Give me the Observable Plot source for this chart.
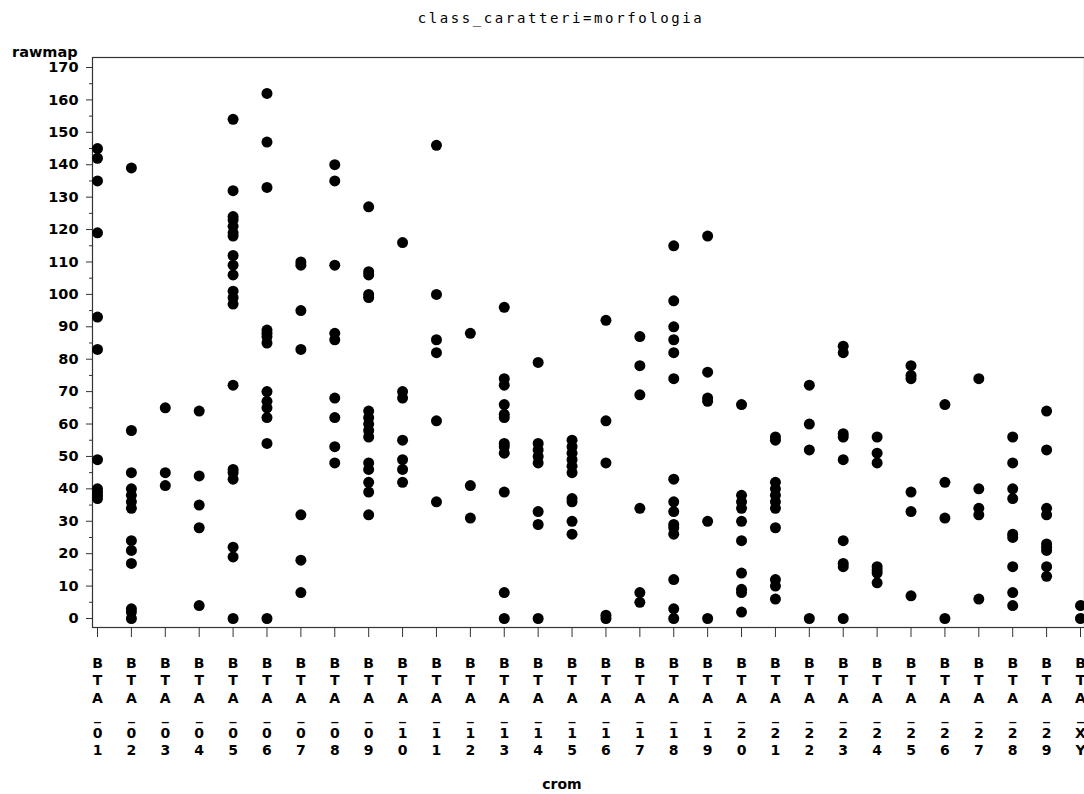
<!DOCTYPE html>
<html>
<head>
<meta charset="utf-8">
<script src="https://cdn.jsdelivr.net/npm/d3@7"></script>
<script src="https://cdn.jsdelivr.net/npm/@observablehq/plot@0.6"></script>
<style>
  body { margin: 0; background: #fff; width: 1084px; height: 794px; overflow: hidden; position: relative; }
  #title { position: absolute; top: 8px; left: 561px; transform: translateX(-50%); white-space: nowrap; z-index: 2;
           font-family: "DejaVu Sans Mono", monospace; font-size: 14px; letter-spacing: 2.6px; line-height: 20px; color: #000; }
  #ylabel { position: absolute; left: 12px; top: 44px; line-height: 16px; z-index: 2;
            font-family: "DejaVu Sans", sans-serif; font-weight: bold; font-size: 14.5px; color: #000; }
  #xlabel { position: absolute; left: 562px; top: 776px; transform: translateX(-50%); line-height: 16px; z-index: 2;
            font-family: "DejaVu Sans", sans-serif; font-weight: bold; font-size: 14px; color: #000; }
  #chart { position: absolute; top: 40px; left: 0; width: 1084px; height: 754px; z-index: 1; }
  #chart svg { display: block; max-width: none !important; }
</style>
</head>
<body>
<div id="chart"></div>
<div id="title">class_caratteri=morfologia</div>
<div id="ylabel">rawmap</div>
<div id="xlabel">crom</div>
<script>
// Chromosome codes along the x axis
const crom = [
  "BTA_01", "BTA_02", "BTA_03", "BTA_04", "BTA_05", "BTA_06", "BTA_07", "BTA_08", "BTA_09", "BTA_10",
  "BTA_11", "BTA_12", "BTA_13", "BTA_14", "BTA_15", "BTA_16", "BTA_17", "BTA_18", "BTA_19", "BTA_20",
  "BTA_21", "BTA_22", "BTA_23", "BTA_24", "BTA_25", "BTA_26", "BTA_27", "BTA_28", "BTA_29", "BTA_XY"
];

// rawmap positions observed on each chromosome (same order as crom)
const rawmap = [
  [145, 142, 135, 119, 93, 83, 49, 40, 39, 38, 37],
  [139, 58, 45, 40, 38, 36, 34, 24, 21, 17, 3, 2, 0],
  [65, 45, 41],
  [64, 44, 35, 28, 4],
  [154, 132, 124, 123, 121, 119, 118, 112, 109, 106, 101, 99, 97, 72, 46, 45, 43, 22, 19, 0],
  [162, 147, 133, 89, 88, 87, 85, 70, 67, 65, 62, 54, 0],
  [110, 109, 95, 83, 32, 18, 8],
  [140, 135, 109, 88, 86, 68, 62, 53, 48],
  [127, 107, 106, 100, 99, 64, 62, 60, 58, 56, 48, 46, 42, 39, 32],
  [116, 70, 68, 55, 49, 46, 42],
  [146, 100, 86, 82, 61, 36],
  [88, 41, 31],
  [96, 74, 72, 66, 63, 62, 54, 53, 51, 39, 8, 0],
  [79, 54, 52, 50, 48, 33, 29, 0],
  [55, 53, 51, 49, 47, 45, 37, 36, 30, 26],
  [92, 61, 48, 1, 0],
  [87, 78, 69, 34, 8, 5],
  [115, 98, 90, 86, 82, 74, 43, 36, 33, 29, 28, 26, 12, 3, 0],
  [118, 76, 68, 67, 30, 0],
  [66, 38, 36, 34, 30, 24, 14, 9, 8, 2],
  [56, 55, 42, 40, 38, 36, 34, 28, 12, 10, 6],
  [72, 60, 52, 0],
  [84, 82, 57, 56, 49, 24, 17, 16, 0],
  [56, 51, 48, 16, 15, 14, 11],
  [78, 75, 74, 39, 33, 7],
  [66, 42, 31, 0],
  [74, 40, 34, 32, 6],
  [56, 48, 40, 37, 26, 25, 16, 8, 4],
  [64, 52, 34, 32, 23, 22, 21, 16, 13],
  [4, 0]
];

// Axis tick values
const yMajorTicks = [0, 10, 20, 30, 40, 50, 60, 70, 80, 90, 100, 110, 120, 130, 140, 150, 160, 170];
const yMinorTicks = [5, 15, 25, 35, 45, 55, 65, 75, 85, 95, 105, 115, 125, 135, 145, 155, 165];

// one row per observation; x is the chromosome's position in the list
const rows = crom.flatMap((c, i) => rawmap[i].map(v => ({crom: c, index: i, rawmap: v})));
const xTicks = crom.map((c, i) => i);

const font = {fontFamily: "DejaVu Sans, sans-serif", fontWeight: "bold", fontSize: 14};

const chart = Plot.plot({
  width: 1084,
  height: 754,
  marginTop: 17,
  marginLeft: 92,
  marginRight: 0,
  marginBottom: 167,
  style: {background: "#fff", color: "#000"},
  // first and last chromosome sit just inside the frame
  x: {domain: [0, crom.length - 1], insetLeft: 5, insetRight: 4},
  y: {domain: [0, 170], insetTop: 10, insetBottom: 9},
  marks: [
    Plot.frame({stroke: "#333", strokeWidth: 1.2}),
    Plot.axisY({
      ticks: yMajorTicks, tickSize: 6, tickPadding: 8, label: null,
      stroke: "#333", ...font, fontSize: 14.5
    }),
    Plot.axisY({
      ticks: yMinorTicks, tickSize: 3, tickFormat: () => "", label: null, stroke: "#333"
    }),
    // chromosome codes are written one character per line
    Plot.axisX({
      ticks: xTicks, tickSize: 10, tickPadding: 18, label: null, stroke: "#333",
      tickFormat: i => crom[i].split("").join("\n"), lineHeight: 1.25, ...font
    }),
    Plot.dot(rows, {x: "index", y: "rawmap", r: 5.5, fill: "#000", stroke: null})
  ]
});

document.getElementById("chart").append(chart);
</script>
</body>
</html>
